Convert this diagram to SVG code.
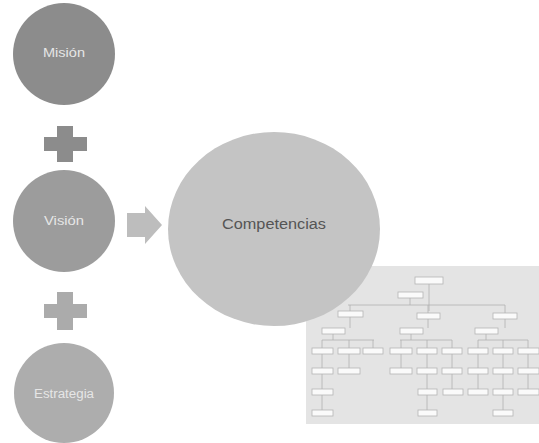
<svg xmlns="http://www.w3.org/2000/svg" width="539" height="443" viewBox="0 0 539 443">
<style>
.lbl{font-family:"Liberation Sans",Arial,sans-serif;font-size:12px;fill:#e6e6e6;text-anchor:middle;dominant-baseline:central}
.main{font-family:"Liberation Sans",Arial,sans-serif;font-size:14px;fill:#555;text-anchor:middle;dominant-baseline:central}
.bx{fill:#fafafa;stroke:#b4b4b4;stroke-width:0.8}
.ln{stroke:#b0b0b0;stroke-width:0.8;fill:none}
</style>
<rect width="539" height="443" fill="#fff"/>
<g id="orgchart">
<rect x="306" y="266" width="233" height="158" fill="#e4e4e4"/>
<g class="ln">
<path d="M429 283V311M410 292V305M348 305H505M350 305V311M428 305V313M505 305V313"/>
<path d="M350 316V328M428 318V328M505 318V328M333 333V340M411 333V340M486 333V340"/>
<path d="M322 340H374M400 340H452M478 340H528"/>
<path d="M322 340V348M349 340V348M373 340V348M401 340V348M427 340V348M452 340V348M478 340V348M503 340V348M528 340V348"/>
<path d="M322 353V368M349 353V368M401 353V368M427 353V368M452 353V368M478 353V368M503 353V368M528 353V368"/>
<path d="M322 374V389M427 374V389M452 374V389M478 374V389M503 374V389M528 374V389"/>
<path d="M322 394V410M427 394V410M503 394V410"/>
</g>
<rect class="bx" x="415" y="277" width="28" height="7"/>
<rect class="bx" x="398" y="292" width="25" height="6"/>
<rect class="bx" x="338" y="311" width="25" height="6"/>
<rect class="bx" x="417" y="313" width="23" height="6"/>
<rect class="bx" x="493" y="313" width="24" height="6"/>
<rect class="bx" x="322" y="328" width="23" height="6"/>
<rect class="bx" x="400" y="328" width="23" height="6"/>
<rect class="bx" x="475" y="328" width="23" height="6"/>
<g>
<rect class="bx" x="312" y="348" width="21" height="6"/>
<rect class="bx" x="338" y="348" width="22" height="6"/>
<rect class="bx" x="363" y="348" width="20" height="6"/>
<rect class="bx" x="390" y="348" width="22" height="6"/>
<rect class="bx" x="417" y="348" width="20" height="6"/>
<rect class="bx" x="442" y="348" width="20" height="6"/>
<rect class="bx" x="468" y="348" width="20" height="6"/>
<rect class="bx" x="493" y="348" width="20" height="6"/>
<rect class="bx" x="518" y="348" width="21" height="6"/>
</g>
<g>
<rect class="bx" x="312" y="368" width="21" height="6"/>
<rect class="bx" x="338" y="368" width="22" height="6"/>
<rect class="bx" x="390" y="368" width="22" height="6"/>
<rect class="bx" x="417" y="368" width="20" height="6"/>
<rect class="bx" x="442" y="368" width="20" height="6"/>
<rect class="bx" x="468" y="368" width="20" height="6"/>
<rect class="bx" x="493" y="368" width="20" height="6"/>
<rect class="bx" x="518" y="368" width="21" height="6"/>
</g>
<g>
<rect class="bx" x="312" y="389" width="21" height="6"/>
<rect class="bx" x="418" y="389" width="19" height="6"/>
<rect class="bx" x="443" y="389" width="20" height="6"/>
<rect class="bx" x="468" y="389" width="20" height="6"/>
<rect class="bx" x="493" y="389" width="20" height="6"/>
<rect class="bx" x="518" y="389" width="21" height="6"/>
</g>
<g>
<rect class="bx" x="312" y="410" width="21" height="6"/>
<rect class="bx" x="418" y="410" width="19" height="6"/>
<rect class="bx" x="493" y="410" width="20" height="6"/>
</g>
</g>
<g id="competencias">
<ellipse cx="274" cy="229" rx="106" ry="97" fill="#c4c4c4"/>
<text class="main" x="274" y="224" textLength="104" lengthAdjust="spacingAndGlyphs">Competencias</text>
</g>
<g id="mision">
<circle cx="64" cy="54" r="51" fill="#8c8c8c"/>
<text class="lbl" x="64" y="53" textLength="42" lengthAdjust="spacingAndGlyphs">Misión</text>
</g>
<g id="vision">
<circle cx="64" cy="221" r="51" fill="#9c9c9c"/>
<text class="lbl" x="64" y="221" textLength="40" lengthAdjust="spacingAndGlyphs">Visión</text>
</g>
<g id="estrategia">
<circle cx="64" cy="393" r="50" fill="#adadad"/>
<text class="lbl" x="64" y="394" textLength="60" lengthAdjust="spacingAndGlyphs">Estrategia</text>
</g>
<g id="connectors">
<path d="M44 137H57V126H73V137H87V151H73V162H57V151H44Z" fill="#8c8c8c"/>
<path d="M44 304H57V292H73V304H87V318H73V330H57V318H44Z" fill="#ababab"/>
<path d="M127 213H145V206L162 225L145 244V237H127Z" fill="#bdbdbd"/>
</g>
</svg>
